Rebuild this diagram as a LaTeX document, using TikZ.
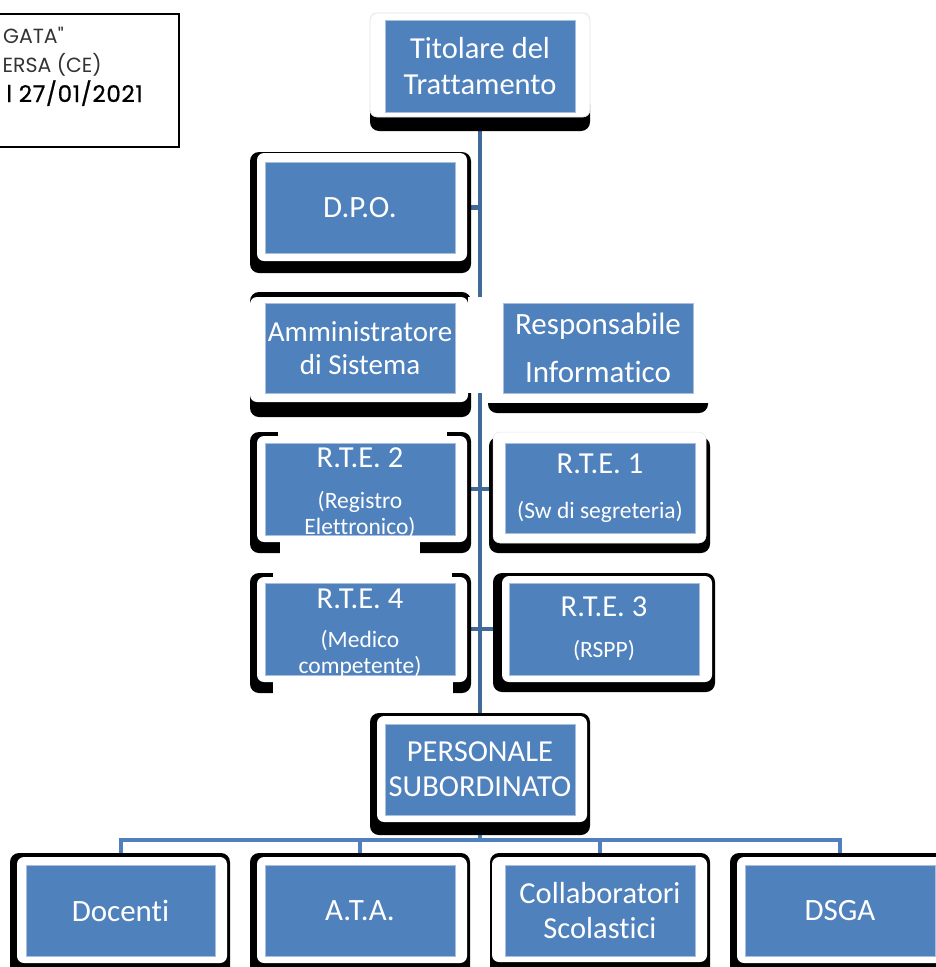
\documentclass[tikz,border=0pt]{standalone}
\usepackage{fontspec}
\setmainfont{Carlito}[Ligatures=NoCommon]
\newfontfamily\stampfont{Poppins}
\pgfdeclarelayer{links}
\pgfsetlayers{links,main}
\definecolor{boxblue}{HTML}{4F81BD}
\definecolor{spineblue}{HTML}{41699A}
\definecolor{busblue}{HTML}{4F7FBC}
\definecolor{edgeblue}{HTML}{A9BFDD}
\newcommand\subtxt{\fontsize{23.5}{27}\selectfont}
\newcommand\lowr[1]{\raisebox{-4pt}[\height][\depth]{#1}}
\tikzset{
  bluebox/.style={fill=boxblue, draw=edgeblue, line width=0.6pt, text=white,
    minimum width=190pt, minimum height=91pt, inner sep=0pt, align=center,
    font=\fontsize{30.5}{35}\selectfont},
  shadowfr/.style={fill=black, rounded corners=9pt},
  whitefr/.style={fill=white, rounded corners=7pt},
  patch/.style={fill=white},
  spine/.style={draw=spineblue, line width=4.5pt},
  bus/.style={draw=busblue, line width=4pt},
  stamp/.style={anchor=base east, inner sep=0pt, font=\stampfont\fontsize{20.5}{22}\selectfont, text=black!80}
}
\begin{document}
\begin{tikzpicture}[x=1pt,y=-1pt]
\useasboundingbox (0,0) rectangle (936,967);
\begin{scope}
\clip (0,0) rectangle (936,967);
% stamp box at top left
\draw[line width=1.5pt] (-5,14) rectangle (179,147);
\node[stamp] (st1) at (64,43) {GATA"};
\node[stamp] (st2) at (102,72) {ERSA (CE)};
\node[stamp, font=\stampfont\addfontfeature{LetterSpace=3,FakeBold=0.8}\fontsize{23}{25}\selectfont, text=black] (st3) at (143,102) {l 27/01/2021};
% frames
\fill[shadowfr] (370,95) rectangle (590,131);
\filldraw[whitefr, draw=black!12, line width=0.6pt] (370,13) rectangle (590,117);
\fill[shadowfr] (250,152) rectangle (471,273);
\fill[whitefr] (257,153) rectangle (467,261);
\fill[shadowfr] (250,292) rectangle (471,417);
\fill[whitefr] (250,297) rectangle (468,402);
\fill[shadowfr] (488,380) rectangle (708,413);
\fill[patch] (486,290) rectangle (710,403);
\fill[patch] (468,297) rectangle (488,393);
\fill[shadowfr] (250,432) rectangle (471,553);
\fill[whitefr] (257,436) rectangle (467,542);
\fill[patch] (278,431) rectangle (447,437);
\fill[patch] (280,541) rectangle (420,554);
\fill[shadowfr] (489,437) rectangle (710,553);
\filldraw[whitefr, draw=black!10, line width=0.5pt] (493,432) rectangle (706,543);
\fill[shadowfr] (250,573) rectangle (471,693);
\fill[whitefr] (257,577) rectangle (467,682);
\fill[patch] (273,572) rectangle (452,578);
\fill[patch] (273,677) rectangle (453,694);
\fill[shadowfr] (493,573) rectangle (715,692);
\fill[whitefr] (502,576) rectangle (712,682);
\fill[shadowfr] (370,713) rectangle (590,835);
\fill[whitefr] (377,716) rectangle (587,822);
\fill[shadowfr] (10,853) rectangle (230,980);
\fill[whitefr] (17,857) rectangle (227,963);
\fill[shadowfr] (250,853) rectangle (470,980);
\fill[whitefr] (257,857) rectangle (467,963);
\fill[shadowfr] (490,853) rectangle (710,980);
\fill[whitefr] (492,857) rectangle (707,962);
\fill[shadowfr] (730,853) rectangle (950,980);
\fill[whitefr] (737,857) rectangle (945,963);
\end{scope}
% blue boxes
\node[bluebox, minimum height=92pt, font=\fontsize{30.5}{36}\selectfont] (tit) at (480,66) {Titolare del\\Trattamento};
\node[bluebox, font=\fontsize{31}{35}\selectfont] (dpo) at (360,207.5) {D.P.O.};
\node[bluebox, minimum height=90pt, font=\fontsize{29}{33}\selectfont] (amm) at (360,348) {Amministratore\\di Sistema};
\node[bluebox, minimum height=90pt, font=\fontsize{31}{36}\selectfont] (resp) at (598,348) {Responsabile\\[12pt]Informatico};
\node[bluebox, minimum height=92pt] (rte2) at (360,489) {\lowr{R.T.E. 2}\\[6pt]{\subtxt\lowr{(Registro}}\\[-9pt]{\subtxt\lowr{Elettronico)}}};
\node[bluebox, minimum height=90pt] (rte1) at (600,488) {R.T.E. 1\\[10pt]{\subtxt (Sw di segreteria)}};
\node[bluebox, minimum height=92pt] (rte4) at (360,629) {\lowr{R.T.E. 4}\\[4pt]{\subtxt\lowr{(Medico}}\\[-9pt]{\subtxt\lowr{competente)}}};
\node[bluebox, minimum height=92pt] (rte3) at (604,629) {R.T.E. 3\\[6pt]{\subtxt (RSPP)}};
\node[bluebox] (per) at (480,769.5) {PERSONALE\\SUBORDINATO};
\node[bluebox, minimum width=189pt, font=\fontsize{31}{35}\selectfont] (doc) at (120.5,910.5) {Docenti};
\node[bluebox, font=\fontsize{31}{35}\selectfont] (ata) at (360,910.5) {A.T.A.};
\node[bluebox] (col) at (600,910.5) {Collaboratori\\Scolastici};
\node[bluebox, font=\fontsize{31}{35}\selectfont] (dsga) at (840,910.5) {DSGA};
% connectors
\coordinate (busy) at (0,840);
\begin{pgfonlayer}{links}
\draw[spine] (tit.south) -- (per.north);
\coordinate (dpoj) at (tit.south |- dpo.east);
\draw[spine] (dpo.east) -- (dpoj);
\draw[spine] (rte2.east) -- (rte2.east -| rte1.west);
\draw[spine] (rte4.east) -- (rte4.east -| rte3.west);
\draw[bus] (per.south) -- (per.south |- busy);
\draw[bus] (doc.north) |- (busy -| per.south) -| (dsga.north);
\draw[bus] (ata.north) |- (busy -| per.south);
\draw[bus] (col.north) |- (busy -| per.south);
\end{pgfonlayer}
\end{tikzpicture}
\end{document}
